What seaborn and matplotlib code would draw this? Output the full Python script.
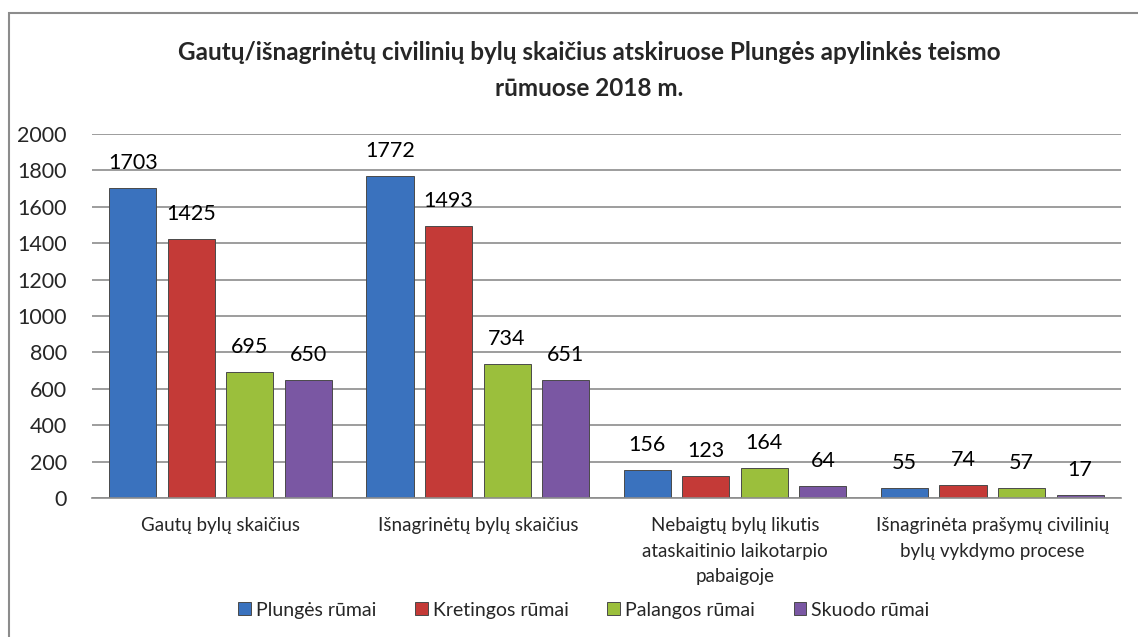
import numpy as np
import pandas as pd
import matplotlib.pyplot as plt
import seaborn as sns
from matplotlib.patches import Rectangle

categories = [
    "Gautų bylų skaičius",
    "Išnagrinėtų bylų skaičius",
    "Nebaigtų bylų likutis\nataskaitinio laikotarpio\npabaigoje",
    "Išnagrinėta prašymų civilinių\nbylų vykdymo procese",
]
series = ["Plungės rūmai", "Kretingos rūmai", "Palangos rūmai", "Skuodo rūmai"]
plunges = [1703, 1772, 156, 55]
kretingos = [1425, 1493, 123, 74]
palangos = [695, 734, 164, 57]
skuodo = [650, 651, 64, 17]
colors = ["#3A72BE", "#C43A37", "#9BBF3C", "#7A57A3"]

df = pd.DataFrame({
    "category": categories * 4,
    "series": np.repeat(series, 4),
    "value": plunges + kretingos + palangos + skuodo,
})

sns.set_theme(style="white")
plt.rcParams["font.family"] = ["Lato", "DejaVu Sans"]

fig = plt.figure(figsize=(11.38, 6.37), dpi=100)
ax = fig.add_axes([0.0808, 0.2182, 0.9042, 0.5714])

sns.barplot(
    data=df, x="category", y="value", hue="series",
    hue_order=series, palette=colors, order=categories, saturation=1,
    width=0.91, gap=0.195, ax=ax, edgecolor="#4a4a4a", linewidth=0.7,
    legend=True,
)

# value labels above each bar
for cont in ax.containers:
    for bar in cont:
        h = bar.get_height()
        ax.annotate(f"{h:.0f}", (bar.get_x() + bar.get_width() / 2, h),
                    xytext=(0, 18), textcoords="offset points",
                    ha="center", va="center", fontsize=15.5, color="black")

ax.set_ylim(0, 2000)
ax.set_yticks(range(0, 2001, 200))
ax.yaxis.grid(True, color="#8c8c8c", linewidth=1.2)
ax.set_axisbelow(True)
for s in ["left", "right", "top"]:
    ax.spines[s].set_visible(False)
ax.spines["bottom"].set_color("#8c8c8c")
ax.spines["bottom"].set_linewidth(1.2)
ax.tick_params(axis="y", labelsize=15.5, pad=18, length=0)
ax.tick_params(axis="x", labelsize=13.5, pad=14, length=0)
for lbl in ax.get_xticklabels():
    lbl.set_linespacing(1.6)
ax.set_xlabel("")
ax.set_ylabel("")

handles, labels = ax.get_legend_handles_labels()
ax.legend(handles, labels, loc="center", bbox_to_anchor=(0.478, -0.308),
          ncol=4, frameon=False, fontsize=14, handlelength=0.65,
          handleheight=0.65, handletextpad=0.25, columnspacing=2.0)

fig.text(0.518, 0.9168, "Gautų/išnagrinėtų civilinių bylų skaičius atskiruose Plungės apylinkės teismo",
         ha="center", va="center", fontsize=17.5, fontweight="bold")
fig.text(0.518, 0.861, "rūmuose 2018 m.", ha="center", va="center",
         fontsize=17.5, fontweight="bold")

fig.patches.append(Rectangle((0.008, -0.05), 1.1, 1.0296, transform=fig.transFigure,
                             fill=False, edgecolor="#8c8c8c", linewidth=1.5))

fig.savefig("out.png", dpi=100)
